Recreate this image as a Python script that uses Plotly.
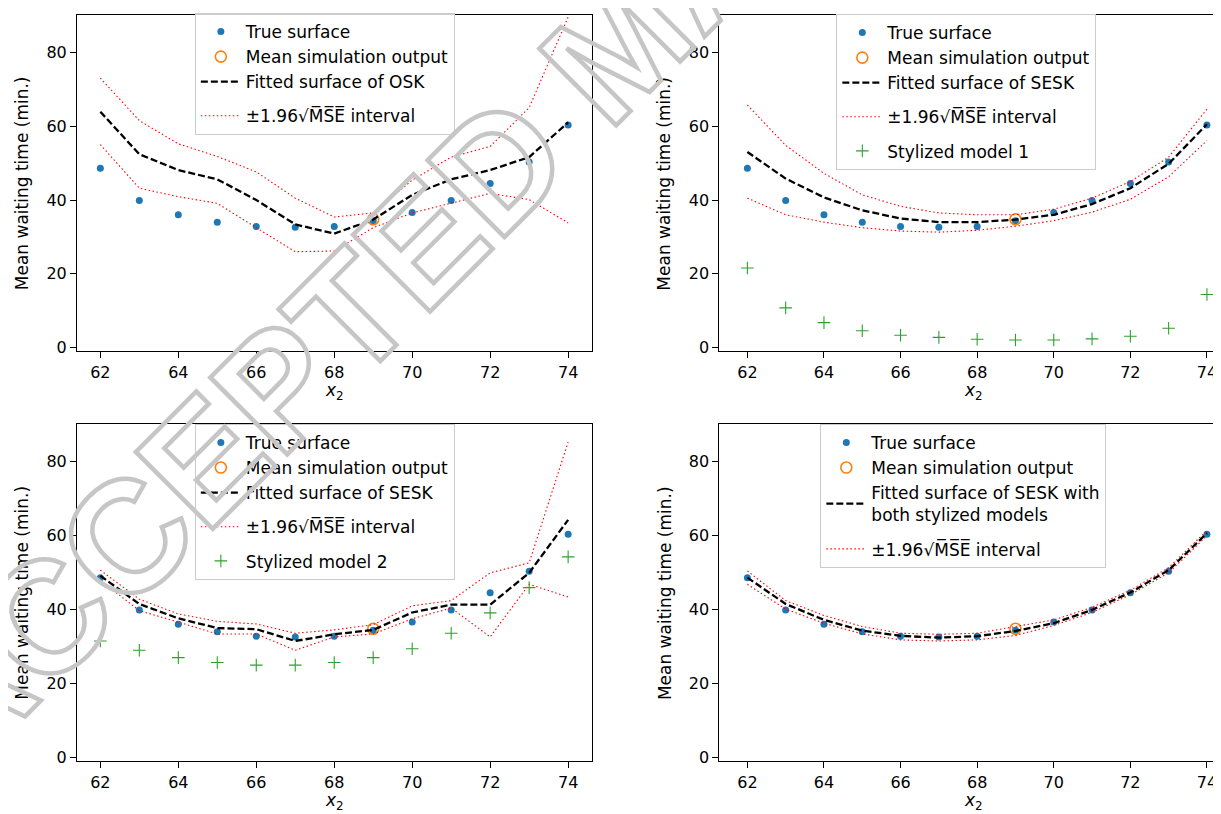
import plotly.graph_objects as go

# ---------------- data ----------------
x2 = [62, 63, 64, 65, 66, 67, 68, 69, 70, 71, 72, 73, 74]
true_surface = [48.6, 39.9, 36.0, 34.0, 32.8, 32.6, 32.8, 34.4, 36.6, 39.9, 44.5, 50.3, 60.3]
mean_sim_x = [69]
mean_sim_y = [34.8]

osk_fit = [63.9, 52.4, 48.1, 45.6, 40.0, 33.4, 30.9, 34.7, 41.4, 45.6, 48.1, 51.6, 61.0]
osk_upper = [73.0, 61.5, 55.2, 51.8, 47.6, 40.5, 35.4, 36.5, 45.4, 51.6, 54.5, 65.0, 89.5]
osk_lower = [55.0, 43.2, 40.9, 39.1, 32.5, 26.0, 26.2, 32.5, 36.5, 39.1, 41.8, 40.1, 33.8]

sesk1_fit = [53.0, 45.8, 40.7, 37.2, 35.0, 34.0, 34.0, 34.7, 36.0, 38.9, 43.2, 49.8, 60.5]
sesk1_upper = [65.7, 54.8, 47.2, 41.4, 38.3, 36.5, 36.0, 36.0, 37.5, 40.5, 45.0, 51.6, 64.6]
sesk1_lower = [40.5, 36.0, 34.0, 32.5, 31.6, 31.3, 31.8, 32.9, 34.4, 36.7, 40.2, 46.3, 56.1]
stylized1 = [21.6, 10.8, 6.8, 4.6, 3.4, 2.8, 2.3, 2.1, 2.1, 2.4, 3.1, 5.3, 14.4]

sesk2_fit = [49.1, 41.5, 37.6, 35.0, 34.7, 31.5, 33.3, 34.5, 39.2, 41.3, 41.3, 49.9, 64.2]
sesk2_upper = [50.6, 42.8, 38.8, 36.8, 36.1, 33.6, 34.5, 35.9, 41.0, 42.4, 49.9, 52.6, 85.2]
sesk2_lower = [47.9, 39.7, 36.6, 33.4, 33.4, 29.0, 32.6, 33.4, 37.5, 40.4, 32.6, 46.8, 43.4]
stylized2 = [31.5, 29.0, 27.0, 25.7, 25.0, 25.0, 25.7, 27.0, 29.4, 33.6, 39.1, 45.9, 54.2]

both_fit = [48.6, 41.5, 37.2, 34.3, 32.9, 32.4, 32.8, 34.2, 36.3, 39.9, 44.6, 50.6, 60.6]
both_upper = [50.4, 42.4, 38.4, 35.4, 33.6, 33.3, 33.6, 35.4, 37.2, 40.6, 45.2, 51.3, 61.3]
both_lower = [46.8, 40.1, 36.3, 33.4, 31.8, 31.5, 31.8, 33.0, 35.7, 39.2, 44.0, 49.9, 59.9]

x_ticks = [62, 64, 66, 68, 70, 72, 74]
y_ticks = [0, 20, 40, 60, 80]

panels = [
    dict(fit=osk_fit, up=osk_upper, lo=osk_lower, sty=None,
         fit_name="Fitted surface of OSK", sty_name=None),
    dict(fit=sesk1_fit, up=sesk1_upper, lo=sesk1_lower, sty=stylized1,
         fit_name="Fitted surface of SESK", sty_name="Stylized model 1"),
    dict(fit=sesk2_fit, up=sesk2_upper, lo=sesk2_lower, sty=stylized2,
         fit_name="Fitted surface of SESK", sty_name="Stylized model 2"),
    dict(fit=both_fit, up=both_upper, lo=both_lower, sty=None,
         fit_name="Fitted surface of SESK with<br>both stylized models", sty_name=None),
]

# ---------------- style ----------------
FONT = "DejaVu Sans"
FS = 16
LFS = 17
BLUE = "#1f77b4"
ORANGE = "#ff7f0e"
GREEN = "#2ca02c"
RED = "#ff0000"
W, H = 1221, 814

interval_name = "±1.96√M\u0305S\u0305E\u0305 interval"

# pixel geometry of the four axes boxes
col_px = [(69, 584), (712, 1221)]
row_px = [(7, 346), (419, 759)]
x_ranges = [[61.4, 74.6], [61.27, 74.55]]
y_range = [-1.0, 90.1]
legend_px = [(187, 5), (829, 6), (187, 419), (813, 419)]

fig = go.Figure()

for i, p in enumerate(panels):
    suf = "" if i == 0 else str(i + 1)
    xa, ya = "x" + suf, "y" + suf
    lg = "legend" + suf
    fig.add_trace(go.Scatter(x=x2, y=true_surface, mode="markers", name="True surface",
                             legendgroup="a",
                             marker=dict(color=BLUE, size=7), xaxis=xa, yaxis=ya, legend=lg))
    fig.add_trace(go.Scatter(x=mean_sim_x, y=mean_sim_y, mode="markers",
                             name="Mean simulation output", legendgroup="a",
                             marker=dict(symbol="circle-open", color=ORANGE, size=11,
                                         line=dict(width=1.6, color=ORANGE)),
                             xaxis=xa, yaxis=ya, legend=lg))
    fig.add_trace(go.Scatter(x=x2, y=p["fit"], mode="lines", name=p["fit_name"],
                             legendgroup="a",
                             line=dict(color="black", width=2.3, dash="7px,3px"),
                             xaxis=xa, yaxis=ya, legend=lg))
    fig.add_trace(go.Scatter(x=x2, y=p["up"], mode="lines", name=interval_name,
                             legendgroup="b",
                             line=dict(color=RED, width=1.1, dash="1.5px,2.5px"),
                             xaxis=xa, yaxis=ya, legend=lg))
    fig.add_trace(go.Scatter(x=x2, y=p["lo"], mode="lines", name=interval_name,
                             showlegend=False, legendgroup="b",
                             line=dict(color=RED, width=1.1, dash="1.5px,2.5px"),
                             xaxis=xa, yaxis=ya, legend=lg))
    if p["sty"] is not None:
        fig.add_trace(go.Scatter(x=x2, y=p["sty"], mode="markers", name=p["sty_name"],
                                 legendgroup="c",
                                 marker=dict(symbol="cross-thin", size=9,
                                             line=dict(color=GREEN, width=1.1)),
                                 xaxis=xa, yaxis=ya, legend=lg))

layout = dict(
    width=W, height=H,
    margin=dict(l=0, r=0, t=0, b=0, pad=0),
    paper_bgcolor="white", plot_bgcolor="white",
    font=dict(family=FONT, size=FS, color="black"),
    showlegend=True,
)

annotations = []
for i in range(4):
    r, c = divmod(i, 2)
    suf = "" if i == 0 else str(i + 1)
    x0, x1 = col_px[c]
    y0, y1 = row_px[r]
    axis_common = dict(showline=True, mirror=True, linecolor="black", linewidth=1,
                       ticks="outside", ticklen=6, tickwidth=1, tickcolor="black",
                       showgrid=False, zeroline=False,
                       tickfont=dict(family=FONT, size=FS, color="black"))
    layout["xaxis" + suf] = dict(axis_common, domain=[x0 / W, x1 / W],
                                 range=x_ranges[c], tickvals=x_ticks,
                                 anchor="y" + suf)
    layout["yaxis" + suf] = dict(axis_common, domain=[1 - y1 / H, 1 - y0 / H],
                                 range=y_range, tickvals=y_ticks,
                                 anchor="x" + suf)
    lx, ly = legend_px[i]
    layout["legend" + suf] = dict(x=lx / W, y=1 - ly / H, xanchor="left", yanchor="top",
                                  xref="paper", yref="paper", itemwidth=40,
                                  traceorder="grouped", tracegroupgap=9,
                                  bgcolor="rgba(255,255,255,0.8)", bordercolor="#cccccc",
                                  borderwidth=1, font=dict(family=FONT, size=LFS, color="black"))
    # axis titles
    annotations.append(dict(text="<i>x</i><sub>2</sub>", xref="paper", yref="paper",
                            x=((x0 + min(x1, 1223)) / 2) / W, y=1 - (y1 + 40) / H,
                            showarrow=False, xanchor="center", yanchor="middle",
                            font=dict(family=FONT, size=LFS, color="black")))
    annotations.append(dict(text="Mean waiting time (min.)", xref="paper", yref="paper",
                            x=(x0 - 55) / W, y=1 - ((y0 + y1) / 2) / H, textangle=-90,
                            showarrow=False, xanchor="center", yanchor="middle",
                            font=dict(family=FONT, size=LFS, color="black")))

# watermark (outlined text)
annotations.append(dict(
    text='<span style="fill:none;stroke:#c6c6c6;stroke-width:4.5px">ACCEPTED MANUSCRIPT</span>',
    xref="paper", yref="paper", x=612 / W, y=1 - 36 / H, textangle=-45,
    showarrow=False, xanchor="center", yanchor="middle",
    font=dict(family="Liberation Sans", size=158, color="#c6c6c6", weight="bold")))

layout["annotations"] = annotations
fig.update_layout(layout)
fig.write_html("out.html")
